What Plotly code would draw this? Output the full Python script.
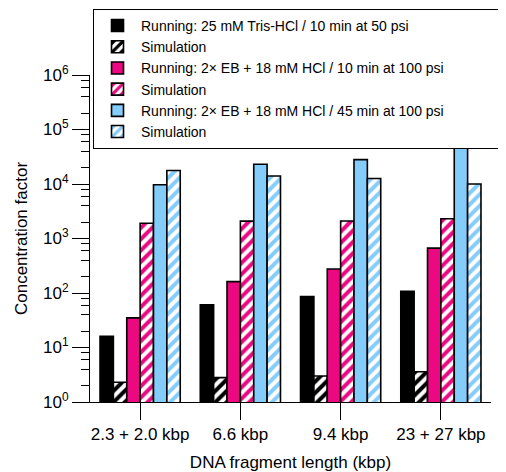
import plotly.graph_objects as go

categories = ["2.3 + 2.0 kbp", "6.6 kbp", "9.4 kbp", "23 + 27 kbp"]
tris_run = [16, 61, 86, 108]
tris_sim = [2.3, 2.8, 3.0, 3.6]
eb10_run = [35, 162, 275, 665]
eb10_sim = [1900, 2080, 2100, 2300]
eb45_run = [9700, 23000, 28000, 46000]
eb45_sim = [17700, 14000, 12600, 10000]

names = [
    "Running: 25 mM Tris-HCl / 10 min at 50 psi",
    "Simulation",
    "Running: 2× EB + 18 mM HCl / 10 min at 100 psi",
    "Simulation",
    "Running: 2× EB + 18 mM HCl / 45 min at 100 psi",
    "Simulation",
]
BLACK = "#000000"
PINK = "#EC0880"
BLUE = "#84CCFA"

series = [
    (tris_run, BLACK, False),
    (tris_sim, BLACK, True),
    (eb10_run, PINK, False),
    (eb10_sim, PINK, True),
    (eb45_run, BLUE, False),
    (eb45_sim, BLUE, True),
]

# the legend box in the reference runs past the right edge of the picture;
# trailing non-breaking spaces widen the box without changing visible text
PAD = "\u00a0" * 16

fig = go.Figure()
for i, ((vals, col, hatch), nm) in enumerate(zip(series, names)):
    if hatch:
        marker = dict(color="white",
                      pattern=dict(shape="/", fgcolor=col, bgcolor="white",
                                   fgopacity=1, size=8, solidity=0.5,
                                   fillmode="replace"),
                      line=dict(color="black", width=1.6))
    else:
        marker = dict(color=col, line=dict(color="black", width=1.6))
    label = nm + PAD if i == 4 else nm
    fig.add_trace(go.Bar(x=categories, y=vals, name=label, marker=marker))

major_vals = [10 ** d for d in range(0, 7)]
major_text = ["10<sup>%d</sup>" % d for d in range(0, 7)]
minor_vals = [m * 10 ** d for d in range(0, 6) for m in (2, 4, 6, 8)]

fam = "Liberation Sans, Arial, Helvetica, sans-serif"
font = dict(family=fam, size=17, color="black")

# page body has an 8px margin: figure is offset to compensate
fig.update_layout(
    width=498, height=464,
    margin=dict(l=82, r=15, t=67, b=70, autoexpand=False),
    paper_bgcolor="white", plot_bgcolor="white",
    font=font,
    barmode="group", bargap=0.2, bargroupgap=0,
    showlegend=True,
    legend=dict(x=0.0075, y=1.202, xanchor="left", yanchor="top",
                bgcolor="white", bordercolor="black", borderwidth=1,
                font=dict(family=fam, size=14, color="black"),
                itemwidth=37, tracegroupgap=0, traceorder="normal"),
    xaxis=dict(showline=True, linecolor="black", linewidth=1,
               ticks="outside", ticklen=17, tickcolor="black",
               tickfont=dict(family=fam, size=17, color="black"),
               range=[-0.5, 3.5], showgrid=False,
               title=dict(text="DNA fragment length (kbp)", standoff=20,
                          font=dict(family=fam, size=17, color="black"))),
    yaxis=dict(type="log", range=[0, 6], showline=True, linecolor="black",
               linewidth=1, ticks="outside", ticklen=17, tickcolor="black",
               tickvals=major_vals, ticktext=major_text, showgrid=False,
               tickfont=dict(family=fam, size=17, color="black"),
               minor=dict(tickvals=minor_vals, ticks="outside", ticklen=8,
                          tickcolor="black", showgrid=False),
               title=dict(text="Concentration factor", standoff=11,
                          font=dict(family=fam, size=17, color="black"))),
)

fig.write_html("out.html")
